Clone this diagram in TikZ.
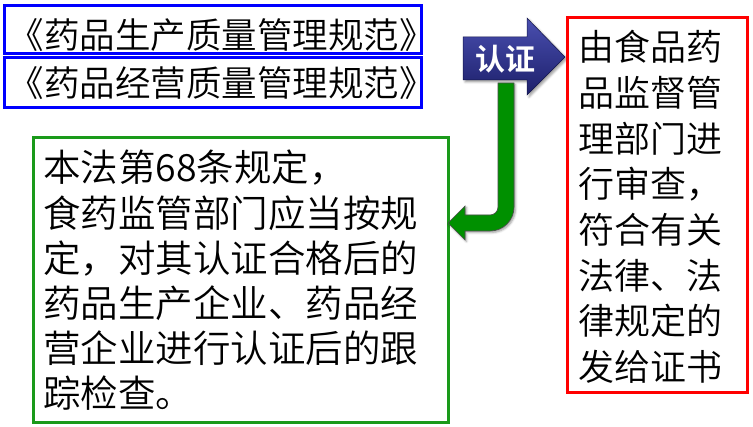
\documentclass[tikz,border=0pt]{standalone}
\usepackage{fontspec}
\setmainfont{Noto Sans CJK SC}[UprightFont={* DemiLight},BoldFont={* Bold}]
\usetikzlibrary{shadows.blur}
\definecolor{boxblue}{HTML}{0000FF}
\definecolor{boxgreen}{HTML}{1A9A1A}
\definecolor{boxred}{HTML}{FF0000}
\definecolor{arrgreen}{HTML}{009000}
\definecolor{arrblueT}{HTML}{4A4FB0}
\definecolor{arrblueB}{HTML}{1C1F6A}
\tikzset{
  frame/.style={line width=3pt},
  blueline/.style={font=\fontsize{35.5}{40}\selectfont, anchor=base, inner sep=0pt},
  greenline/.style={font=\fontsize{37.5}{45}\selectfont, anchor=base west, inner sep=0pt},
  redline/.style={font=\fontsize{36}{45}\selectfont, anchor=base west, inner sep=0pt},
}
\begin{document}
\begin{tikzpicture}[x=1pt,y=-1pt]
\useasboundingbox (0,0) rectangle (753,427);
% blue boxes
\draw[frame, boxblue] (4,6) rectangle (421,54);
\draw[frame, boxblue] (4,58) rectangle (421,108);
\node[blueline] (b1) at (222,49) {《药品生产质量管理规范》};
\node[blueline] (b2) at (222,97) {《药品经营质量管理规范》};
% blue arrow
\path[draw=arrblueB!70!black, line width=0.5pt, top color=arrblueT, bottom color=arrblueB,
      blur shadow={shadow xshift=2pt, shadow yshift=-2pt, shadow blur steps=5}]
  (463,37) -- (527,37) -- (527,18) -- (565,57) -- (527,95) -- (527,80) -- (463,80) -- cycle;
\node[font=\fontsize{30}{34}\selectfont\bfseries, text=white, anchor=base, inner sep=0pt] (cert) at (505,70.5) {认证};
% red box
\draw[frame, boxred] (567,18) rectangle (747,393);
\node[redline] (r1) at (578,60.7) {由食品药};
\node[redline] (r2) at (578,106.4) {品监督管};
\node[redline] (r3) at (578,152.1) {理部门进};
\node[redline] (r4) at (578,197.8) {行审查，};
\node[redline] (r5) at (578,243.5) {符合有关};
\node[redline] (r6) at (578,289.2) {法律、法};
\node[redline] (r7) at (578,334.9) {律规定的};
\node[redline] (r8) at (578,380.6) {发给证书};
% green box
\draw[frame, boxgreen] (33,138) rectangle (448,423);
\node[greenline] (g1) at (43,182) {本法第68条规定，};
\node[greenline] (g2) at (43,227.2) {食药监管部门应当按规};
\node[greenline] (g3) at (43,272.4) {定，对其认证合格后的};
\node[greenline] (g4) at (43,317.6) {药品生产企业、药品经};
\node[greenline] (g5) at (43,362.8) {营企业进行认证后的跟};
\node[greenline] (g6) at (43,408) {踪检查。};
% green bent arrow
\path[fill=arrgreen, draw=black!70, line width=0.6pt,
      blur shadow={shadow xshift=1.5pt, shadow yshift=-1.5pt, shadow blur steps=4}]
  (514,83) -- (514,207) arc[start angle=0, end angle=90, radius=24]
  -- (465,231) -- (465,240) -- (448,223) -- (465,206) -- (465,215) -- (490,215)
  arc[start angle=90, end angle=0, radius=8] -- (498,83) -- cycle;
\end{tikzpicture}
\end{document}
